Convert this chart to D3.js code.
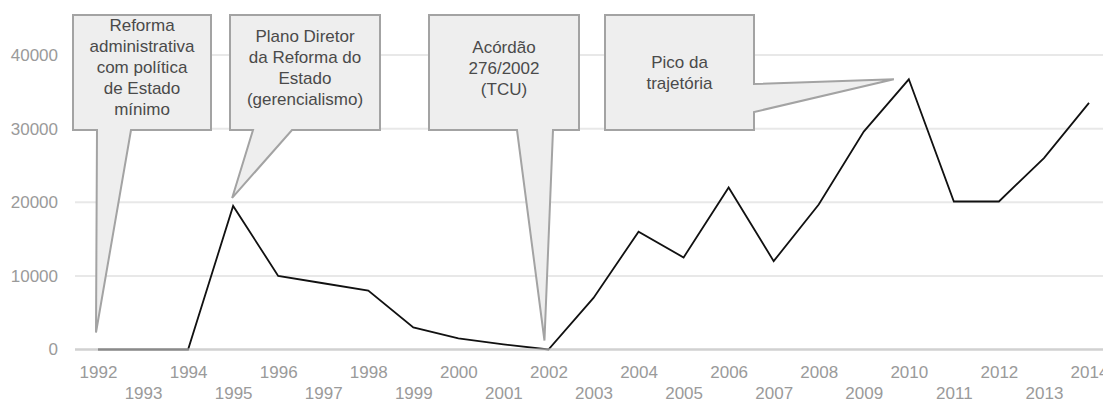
<!DOCTYPE html>
<html>
<head>
<meta charset="utf-8">
<script src="https://d3js.org/d3.v7.min.js"></script>
<style>
  body { margin: 0; background: #fff; }
  svg { display: block; font-family: "Liberation Sans", Arial, sans-serif; }
</style>
</head>
<body>
<script>
// data
const years = d3.range(1992, 2015).map(String);
const values = [0, 0, 0, 19500, 10000, 9000, 8000, 3000, 1500, 700, 0,
  7000, 16000, 12500, 22000, 12000, 19700, 29600, 36700, 20100, 20100, 26000, 33500];
const yTicks = [0, 10000, 20000, 30000, 40000];

const noteYears = ["1992", "1995", "2002", "2010"];
const noteTexts = [
  ["Reforma", "administrativa", "com política", "de Estado", "mínimo"],
  ["Plano Diretor", "da Reforma do", "Estado", "(gerencialismo)"],
  ["Acórdão", "276/2002", "(TCU)"],
  ["Pico da", "trajetória"]
];

// callout layout: box, tail base on box edge, tip offset from the point
const noteBoxes = [
  { x0: 73, x1: 211, y0: 15, y1: 130, side: "bottom", a: 97, b: 131, dx: -2, dy: -17, cy: 67 },
  { x0: 230, x1: 380, y0: 15, y1: 130, side: "bottom", a: 253, b: 292, dx: -1, dy: -8, cy: 67 },
  { x0: 429, x1: 579, y0: 15, y1: 130, side: "bottom", a: 517, b: 553, dx: -4, dy: -9, cy: 67.5 },
  { x0: 605, x1: 754, y0: 15, y1: 130, side: "right", a: 84, b: 112, dx: -15, dy: 0, cy: 72.5 }
];

const width = 1103, height = 403;
const plotLeft = 75;

const svg = d3.select("body").append("svg")
  .attr("width", width)
  .attr("height", height);

const x = d3.scalePoint().domain(years).range([98, 1089]);
const y = d3.scaleLinear().domain([0, 40000]).range([349.5, 55]);

// gridlines
svg.append("g")
  .selectAll("line")
  .data(yTicks.filter(d => d !== 0))
  .enter()
  .append("line")
  .attr("x1", plotLeft).attr("x2", width)
  .attr("y1", d => y(d)).attr("y2", d => y(d))
  .attr("stroke", "#e8e8e8")
  .attr("stroke-width", 2);

// y axis labels
const yAxis = svg.append("g")
  .attr("transform", "translate(" + plotLeft + ",0)")
  .call(d3.axisLeft(y).tickValues(yTicks).tickSize(0).tickPadding(17).tickFormat(d3.format("d")));
yAxis.select(".domain").remove();
yAxis.selectAll("text")
  .attr("fill", "#9a9a9a")
  .style("font-size", "17px")
  .style("font-family", "Liberation Sans, Arial, sans-serif");

// x axis labels, staggered in two rows
const xAxis = svg.append("g")
  .attr("transform", "translate(0," + y(0) + ")")
  .call(d3.axisBottom(x).tickSize(0).tickPadding(16.5));
xAxis.select(".domain").remove();
xAxis.selectAll("text")
  .attr("fill", "#9a9a9a")
  .style("font-size", "17px")
  .style("font-family", "Liberation Sans, Arial, sans-serif")
  .attr("y", (d, i) => i % 2 === 0 ? 16.5 : 37.2);

// series
const line = d3.line()
  .x((d, i) => x(years[i]))
  .y(d => y(d));

svg.append("path")
  .datum(values)
  .attr("fill", "none")
  .attr("stroke", "#111")
  .attr("stroke-width", 1.8)
  .attr("stroke-linejoin", "miter")
  .attr("d", line);

// zero baseline
svg.append("line")
  .attr("x1", plotLeft).attr("x2", width)
  .attr("y1", y(0)).attr("y2", y(0))
  .attr("stroke", "#bdbdbd")
  .attr("stroke-opacity", 0.7)
  .attr("stroke-width", 2.5);

// callouts
const notes = svg.append("g");
noteYears.forEach(function (yr, k) {
  const b = noteBoxes[k];
  const i = years.indexOf(yr);
  const tx = x(yr) + b.dx, ty = y(values[i]) + b.dy;
  let pts;
  if (b.side === "bottom") {
    pts = [[b.x0, b.y0], [b.x1, b.y0], [b.x1, b.y1], [b.b, b.y1], [tx, ty], [b.a, b.y1], [b.x0, b.y1]];
  } else {
    pts = [[b.x0, b.y0], [b.x1, b.y0], [b.x1, b.a], [tx, ty], [b.x1, b.b], [b.x1, b.y1], [b.x0, b.y1]];
  }
  const g = notes.append("g");
  g.append("path")
    .attr("d", "M" + pts.map(p => p.join(",")).join("L") + "Z")
    .attr("fill", "#eeeeee")
    .attr("stroke", "#a3a3a3")
    .attr("stroke-width", 2)
    .attr("stroke-linejoin", "miter");

  const lines = noteTexts[k];
  const lh = 21;
  g.selectAll("text")
    .data(lines)
    .enter()
    .append("text")
    .attr("x", (b.x0 + b.x1) / 2)
    .attr("y", (d, j) => b.cy + (j - (lines.length - 1) / 2) * lh)
    .attr("dy", "0.36em")
    .attr("text-anchor", "middle")
    .attr("fill", "#4a4a4a")
    .style("font-size", "17px")
    .text(d => d);
});
</script>
</body>
</html>
